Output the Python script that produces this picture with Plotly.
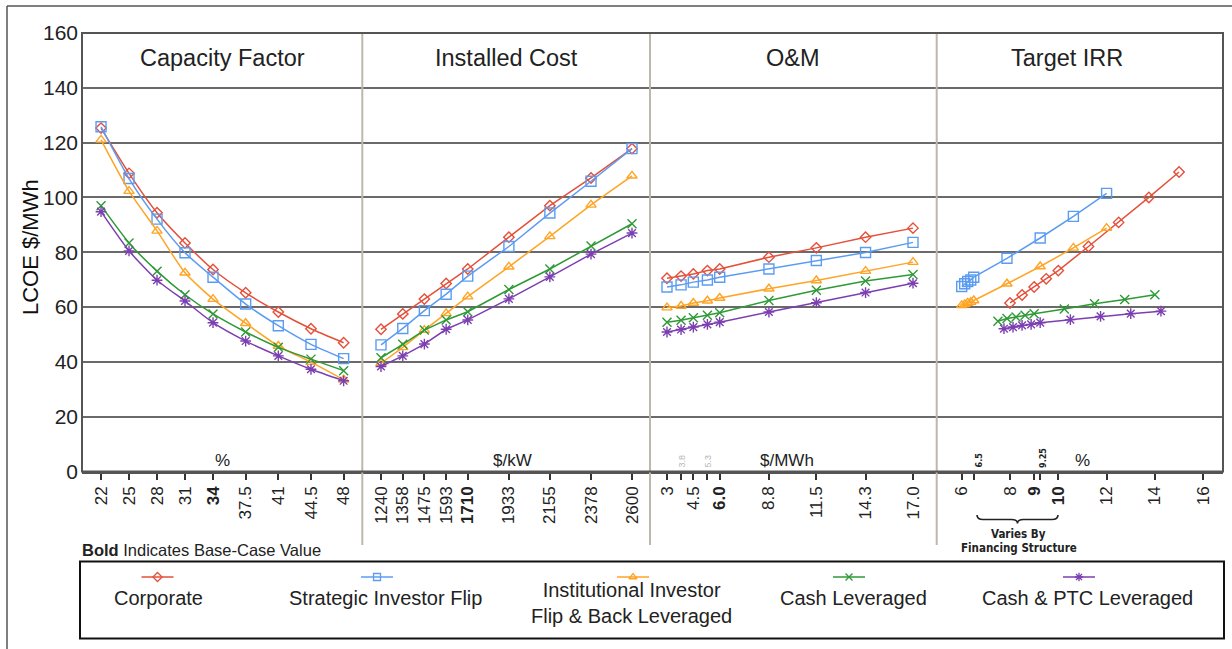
import plotly.graph_objects as go

# ---------------- data ----------------
series_names = ["Corporate", "Strategic Investor Flip", "Institutional Investor<br>Flip & Back Leveraged",
                "Cash Leveraged", "Cash & PTC Leveraged"]

panel_titles = ["Capacity Factor", "Installed Cost", "O&M", "Target IRR"]
panel_units = ["%", "$/kW", "$/MWh", "%"]

cf_x = [22, 25, 28, 31, 34, 37.5, 41, 44.5, 48]
cf_corporate = [125.3, 108.8, 94.4, 83.4, 73.7, 65.2, 58.2, 52.1, 47.0]
cf_strategic = [125.8, 106.9, 92.1, 79.8, 70.9, 61.1, 53.2, 46.4, 41.2]
cf_institutional = [121.0, 102.3, 87.8, 72.5, 62.9, 54.1, 45.8, 39.9, 33.5]
cf_cash = [97.0, 83.4, 73.1, 64.5, 57.5, 50.9, 45.3, 41.0, 36.8]
cf_cashptc = [94.8, 80.5, 69.8, 62.2, 54.3, 47.6, 42.2, 37.3, 33.1]
cf_ticks = [22, 25, 28, 31, 34, 37.5, 41, 44.5, 48]
cf_ticktext = ["22", "25", "28", "31", "<b>34</b>", "37.5", "41", "44.5", "48"]

ic_x = [1240, 1358, 1475, 1593, 1710, 1933, 2155, 2378, 2600]
ic_corporate = [51.9, 57.5, 62.9, 68.6, 73.9, 85.5, 97.0, 107.1, 117.8]
ic_strategic = [46.2, 52.2, 58.7, 64.7, 71.3, 82.1, 94.3, 105.9, 117.8]
ic_institutional = [39.5, 45.3, 51.6, 57.7, 63.8, 74.7, 85.8, 97.3, 107.9]
ic_cash = [41.5, 46.4, 51.6, 55.3, 58.3, 66.4, 73.9, 82.3, 90.4]
ic_cashptc = [38.3, 42.2, 46.5, 51.9, 55.3, 63.0, 71.0, 79.3, 87.0]
ic_ticks = [1240, 1358, 1475, 1593, 1710, 1933, 2155, 2378, 2600]
ic_ticktext = ["1240", "1358", "1475", "1593", "<b>1710</b>", "1933", "2155", "2378", "2600"]

om_x = [3, 3.8, 4.5, 5.3, 6.0, 8.8, 11.5, 14.3, 17.0]
om_corporate = [70.5, 71.3, 72.1, 73.3, 73.9, 78.2, 81.6, 85.5, 88.8]
om_strategic = [67.3, 68.1, 69.1, 69.9, 70.9, 73.9, 77.0, 79.9, 83.6]
om_institutional = [59.8, 60.4, 61.5, 62.3, 63.3, 66.7, 69.7, 73.1, 76.4]
om_cash = [54.5, 55.2, 56.1, 57.0, 57.9, 62.4, 66.1, 69.5, 71.9]
om_cashptc = [50.9, 51.8, 52.7, 53.7, 54.5, 58.2, 61.6, 65.3, 68.7]
om_ticks = [3, 3.8, 4.5, 5.3, 6.0, 8.8, 11.5, 14.3, 17.0]
om_ticktext = ["3", "", "4.5", "", "<b>6.0</b>", "8.8", "11.5", "14.3", "17.0"]

irr_corporate_x = [8, 8.5, 9, 9.5, 10, 11.25, 12.5, 13.75, 15]
irr_corporate = [61.5, 64.4, 67.3, 70.3, 73.3, 82.1, 90.9, 100.0, 109.3]
irr_strategic_x = [6, 6.125, 6.25, 6.375, 6.5, 7.875, 9.25, 10.625, 12]
irr_strategic = [67.5, 68.5, 69.3, 69.9, 70.9, 77.8, 85.2, 93.1, 101.5]
irr_institutional_x = [6, 6.125, 6.25, 6.375, 6.5, 7.875, 9.25, 10.625, 12]
irr_institutional = [60.6, 61.0, 61.5, 61.8, 62.4, 68.5, 74.8, 81.6, 88.8]
irr_cash_x = [7.5, 7.875, 8.25, 8.625, 9, 10.25, 11.5, 12.75, 14]
irr_cash = [54.8, 55.8, 56.4, 57.0, 57.6, 59.3, 61.2, 62.8, 64.5]
irr_cashptc_x = [7.75, 8.125, 8.5, 8.875, 9.25, 10.5, 11.75, 13, 14.25]
irr_cashptc = [52.1, 52.7, 53.3, 53.7, 54.3, 55.4, 56.6, 57.6, 58.5]
irr_ticks = [6, 6.5, 8, 9, 9.25, 10, 12, 14, 16]
irr_ticktext = ["6", "", "8", "<b>9</b>", "", "<b>10</b>", "12", "14", "16"]

y_ticks = [0, 20, 40, 60, 80, 100, 120, 140, 160]

# ---------------- styling ----------------
colors = ["#e4503a", "#5b9cf2", "#ffa424", "#2e9a36", "#7c3fb1"]
symbols = ["diamond-open", "square-open", "triangle-up-open", "x-thin-open", "asterisk-open"]
msizes = [8, 10, 9, 9, 9]
FONT = "Liberation Sans, Arial, sans-serif"
NARROW = "Liberation Sans Narrow, Arial Narrow, DejaVu Sans Condensed, sans-serif"

W, H = 1232, 649
L, R, T, B = 82, 9, 33, 5
PW, PH = W - L - R, H - T - B


def px(x):
    return (x - L) / PW


def py(y):
    return (H - B - y) / PH


bounds = [82, 362.3, 650, 936.7, 1223]
doms = [[px(bounds[i]), px(bounds[i + 1])] for i in range(4)]
ranges = [[19.96, 50.0], [1138.7, 2697.5], [2.033, 18.349], [4.965, 16.82]]

panels = [
    (cf_x, [cf_corporate, cf_strategic, cf_institutional, cf_cash, cf_cashptc]),
    (ic_x, [ic_corporate, ic_strategic, ic_institutional, ic_cash, ic_cashptc]),
    (om_x, [om_corporate, om_strategic, om_institutional, om_cash, om_cashptc]),
    (None, [irr_corporate, irr_strategic, irr_institutional, irr_cash, irr_cashptc]),
]
irr_xs = [irr_corporate_x, irr_strategic_x, irr_institutional_x, irr_cash_x, irr_cashptc_x]
tick_sets = [(cf_ticks, cf_ticktext), (ic_ticks, ic_ticktext), (om_ticks, om_ticktext), (irr_ticks, irr_ticktext)]

fig = go.Figure()
for p, (xs, ys_list) in enumerate(panels):
    xa = "x" if p == 0 else f"x{p + 1}"
    for s, ys in enumerate(ys_list):
        xv = xs if xs is not None else irr_xs[s]
        fig.add_trace(go.Scatter(
            x=xv, y=ys, xaxis=xa, yaxis="y", mode="lines+markers",
            line=dict(color=colors[s], width=1.5,
                      shape="spline" if p == 0 else "linear", smoothing=0.6),
            marker=dict(symbol=symbols[s], size=msizes[s], color=colors[s],
                        line=dict(color=colors[s], width=1.4)),
            name=series_names[s], showlegend=False, hoverinfo="x+y",
        ))

# manual legend (symbol above centred label)
leg_cx = [157.5, 377, 633, 849, 1079]
leg_tx = [158, 385, 631, 853, 1087]
for s in range(5):
    fig.add_trace(go.Scatter(
        x=[leg_cx[s] - 16, leg_cx[s], leg_cx[s] + 16], y=[577, 577, 577],
        xaxis="x5", yaxis="y2", mode="lines+markers",
        line=dict(color=colors[s], width=1.5),
        marker=dict(symbol=symbols[s], size=[0, 7, 0], opacity=[0, 1, 0], color=colors[s],
                    line=dict(color=colors[s], width=1.3)),
        showlegend=False, hoverinfo="skip",
    ))

layout = dict(
    width=W, height=H, margin=dict(l=L, r=R, t=T, b=B, pad=0, autoexpand=False),
    paper_bgcolor="white", plot_bgcolor="white", showlegend=False,
    font=dict(family=FONT, color="#222"),
    yaxis=dict(domain=[py(471.5), 1], range=[0, 160], tickvals=y_ticks, showgrid=True,
               gridcolor="#6a6a6a", gridwidth=1.8, zeroline=False, showline=False,
               ticks="", tickfont=dict(size=21, color="#222", family=FONT), automargin=False,
               ticklabelstandoff=3, anchor="x", fixedrange=True),
    xaxis5=dict(domain=[0, 1], range=[L, L + PW], visible=False, anchor="y2", fixedrange=True,
                automargin=False),
    yaxis2=dict(domain=[0, py(521.8)], range=[644, 521.8], visible=False, anchor="x5", fixedrange=True,
                automargin=False),
)
for p in range(4):
    key = "xaxis" if p == 0 else f"xaxis{p + 1}"
    tv, tt = tick_sets[p]
    layout[key] = dict(domain=doms[p], range=ranges[p], anchor="y", tickvals=tv, ticktext=tt,
                       tickangle=-90, ticks="outside", ticklen=6, tickwidth=2, tickcolor="#333",
                       tickfont=dict(size=17, color="#222", family=FONT), showgrid=False, automargin=False,
                       zeroline=False, showline=True, linecolor="#555", linewidth=2, fixedrange=True)
fig.update_layout(**layout)

shapes = []
# outer frame (partially visible)
shapes.append(dict(type="line", xref="paper", yref="paper", x0=px(7), x1=px(1240), y0=py(6), y1=py(6),
                   line=dict(color="#555", width=1.5)))
shapes.append(dict(type="line", xref="paper", yref="paper", x0=px(7), x1=px(7), y0=py(6), y1=py(660),
                   line=dict(color="#555", width=1.5)))
# panel dividers
for b in bounds[1:4]:
    shapes.append(dict(type="line", xref="paper", yref="paper", x0=px(b), x1=px(b),
                       y0=py(33), y1=py(545), line=dict(color="#bdb8ae", width=2)))
# plot frame
shapes.append(dict(type="rect", xref="paper", yref="paper", x0=px(82), x1=px(1223), y0=py(471.5), y1=py(33),
                   line=dict(color="#555", width=2)))
# brace under IRR axis
bx0, bx1, bxc = 977, 1058, 1017.5
yt, ym, yb = 515, 519.5, 523.5


def P(x, y):
    return f"{px(x):.5f},{py(y):.5f}"


path = (f"M {P(bx0, yt)} Q {P(bx0, ym)} {P(bx0 + 6, ym)} L {P(bxc - 6, ym)} "
        f"Q {P(bxc, ym)} {P(bxc, yb)} Q {P(bxc, ym)} {P(bxc + 6, ym)} "
        f"L {P(bx1 - 6, ym)} Q {P(bx1, ym)} {P(bx1, yt)}")
shapes.append(dict(type="path", xref="paper", yref="paper", path=path, line=dict(color="#222", width=1.6)))
# legend box
shapes.append(dict(type="rect", xref="paper", yref="paper", x0=px(80), x1=px(1224), y0=py(638.5), y1=py(561.5),
                   line=dict(color="#111", width=2)))
fig.update_layout(shapes=shapes)

ann = []
# panel titles
title_x = [222, 506, 793, 1067]
for p in range(4):
    ann.append(dict(text=panel_titles[p], x=px(title_x[p]), y=py(58), xref="paper", yref="paper",
                    showarrow=False, xanchor="center", yanchor="middle", font=dict(size=23.5, color="#222")))
# unit labels
unit_x = [222, 512, 787, 1082]
for p in range(4):
    ann.append(dict(text=panel_units[p], x=px(unit_x[p]), y=py(461), xref="paper", yref="paper",
                    showarrow=False, xanchor="center", yanchor="middle", font=dict(size=17, color="#222")))
# y-axis title
ann.append(dict(text="LCOE $/MWh", x=px(31), y=py(247), xref="paper", yref="paper", textangle=-90,
                showarrow=False, xanchor="center", yanchor="middle", font=dict(size=22, color="#111")))
# small tick notes
small = [("3.8", 681, 461.5, "#b5b5b5", False), ("5.3", 707, 461.5, "#b5b5b5", False),
         ("6.5", 978, 460.5, "#222", True), ("9.25", 1043, 458, "#222", True)]
for t, x, y, c, bold in small:
    ann.append(dict(text=f"<b>{t}</b>" if bold else t, x=px(x), y=py(y), xref="paper", yref="paper",
                    textangle=-90, showarrow=False, xanchor="center", yanchor="middle",
                    font=dict(size=9, color=c, family=NARROW if bold else FONT)))
# notes
ann.append(dict(text="<b>Bold</b> Indicates Base-Case Value", x=px(80), y=py(550), xref="paper", yref="paper",
                showarrow=False, xanchor="left", yanchor="middle", font=dict(size=16.5, color="#222")))
ann.append(dict(text="<b>Varies By</b>", x=px(1018), y=py(534), xref="paper", yref="paper",
                showarrow=False, xanchor="center", yanchor="middle", font=dict(size=11.5, color="#222", family=NARROW)))
ann.append(dict(text="<b>Financing Structure</b>", x=px(1019), y=py(548), xref="paper", yref="paper",
                showarrow=False, xanchor="center", yanchor="middle", font=dict(size=11.5, color="#222", family=NARROW)))
# legend labels
for s in range(5):
    ann.append(dict(text=series_names[s], x=px(leg_tx[s]), y=py(603 if s == 2 else 598), xref="paper",
                    yref="paper", showarrow=False, xanchor="center", yanchor="middle",
                    font=dict(size=20, color="#222"), align="center"))
fig.update_layout(annotations=ann)

fig.write_html("out.html", config={"displayModeBar": False},
               post_script="document.body.style.margin='0';document.body.style.overflow='hidden';")
